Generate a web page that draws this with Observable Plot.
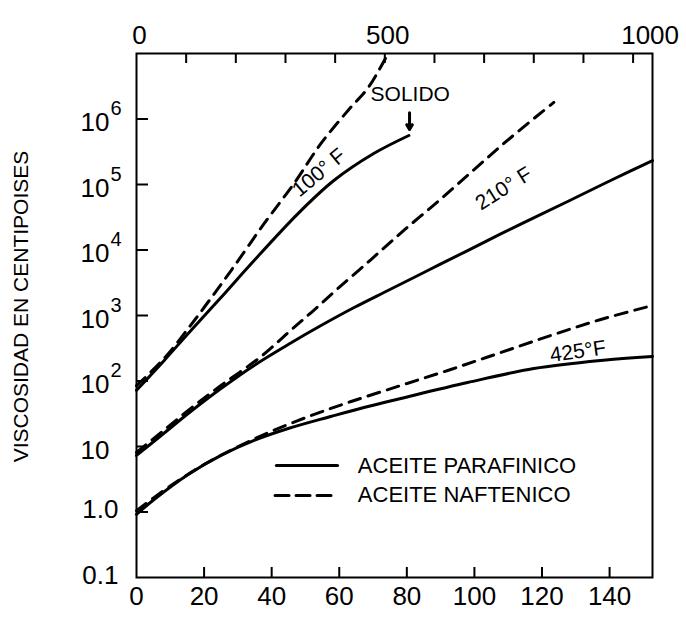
<!DOCTYPE html>
<html><head><meta charset="utf-8">
<script src="https://cdn.jsdelivr.net/npm/d3@7"></script>
<script src="https://cdn.jsdelivr.net/npm/@observablehq/plot@0.6"></script>
<style>body{margin:0;background:#fff} #chart svg{overflow:visible}</style>
</head><body><div id="chart"></div>
<script>
// Presión (eje inferior, unidades del gráfico) y viscosidad (cP)
const x100Par = [0, 8.2, 15.3, 25.0, 34.0, 47.8, 58.4, 70.2, 80.6];
const v100Par = [72, 206, 531, 1880, 6220, 36000, 115000, 297000, 560000];
const x100Naf = [0, 8.2, 15.3, 20.0, 28.0, 37.8, 46.6, 54.6, 62.6, 68.6, 73.8];
const v100Naf = [85, 221, 634, 1325, 4860, 25400, 103500, 423000, 1350000, 3030000, 8700000];
const x210Par = [0, 7.3, 15.3, 25.0, 34.8, 44.9, 54.6, 64.4, 74.4, 86.2, 98.0, 112.8, 127.6, 140.3, 152.7];
const v210Par = [7.3, 14.7, 31.9, 76.7, 173, 361, 703, 1325, 2410, 4860, 9810, 23600, 55000, 115000, 232000];
const x210Naf = [0, 7.3, 15.3, 25.0, 36.9, 44.9, 51.7, 59.6, 69.4, 79.1, 89.2, 98.9, 108.7, 118.7, 123.5];
const v210Naf = [8.1, 16.4, 35.5, 85.3, 237, 550, 1110, 2580, 7160, 19900, 55000, 152000, 423000, 1130000, 1790000];
const x425Par = [0, 5.2, 15.3, 25.0, 34.8, 44.9, 57.5, 67.3, 78.2, 98.0, 117.6, 137.4, 152.7];
const v425Par = [0.92, 1.55, 3.74, 7.3, 12.4, 18.8, 28.7, 39.4, 54.1, 94.8, 155, 206, 237];
const x425Naf = [0, 10.2, 20.0, 30.1, 39.8, 51.7, 63.5, 78.2, 93.0, 107.8, 122.6, 137.4, 152.7];
const v425Naf = [1.05, 2.54, 5.31, 10.0, 16.9, 29.7, 48.6, 85.3, 150, 272, 495, 869, 1420];

// Ejes
const bottomTicks = [0, 20, 40, 60, 80, 100, 120, 140];
const topTicks = [100, 200, 300, 400, 500, 600, 700, 800, 900, 1000];
const topLabels = [0, 500, 1000];
const yTicks = [0.1, 1, 10, 100, 1e3, 1e4, 1e5, 1e6];
const yBase = ["0.1", "1.0", "10", "10", "10", "10", "10", "10"];
const ySup = ["", "", "", "2", "3", "4", "5", "6"];
const ATM = 0.14696; // atm -> unidades del eje inferior

const mk = (xs, vs, serie, temp) => xs.map((x, i) => ({x, v: vs[i], serie, temp}));
const series = [
  mk(x100Par, v100Par, "par", "100"), mk(x100Naf, v100Naf, "naf", "100"),
  mk(x210Par, v210Par, "par", "210"), mk(x210Naf, v210Naf, "naf", "210"),
  mk(x425Par, v425Par, "par", "425"), mk(x425Naf, v425Naf, "naf", "425")
];
const yLab = yTicks.map((v, i) => ({v, base: yBase[i], sup: ySup[i]}));

const font = "Liberation Sans, Arial, sans-serif";
const W = 686, H = 623, mT = 53, mB = 46, mL = 136, mR = 34;
const iw = W - mL - mR, ih = H - mT - mB;

const marks = [];
for (const s of series) {
  marks.push(Plot.line(s, {x: "x", y: "v", curve: "catmull-rom", stroke: "#000", strokeWidth: 3,
    strokeDasharray: s[0].serie === "naf" ? "12,8" : null}));
}
marks.push(
  Plot.frame({stroke: "#000", strokeWidth: 2}),
  Plot.tickX(bottomTicks.slice(1), {x: d => d, insetTop: ih - 10, strokeWidth: 2}),
  Plot.tickX(topTicks, {x: d => d * ATM, insetBottom: ih - 10, strokeWidth: 2}),
  Plot.tickY(yTicks.slice(1), {y: d => d, insetRight: iw - 12, strokeWidth: 2}),
  Plot.text(bottomTicks, {x: d => d, frameAnchor: "bottom", dy: 27, text: d => String(d), fontSize: 26}),
  Plot.text(topLabels.filter(d => d < 1000), {x: d => d * ATM, frameAnchor: "top", dy: -28, dx: 3, text: d => String(d), fontSize: 26}),
  Plot.text(topLabels.filter(d => d === 1000), {x: d => d * ATM, frameAnchor: "top", dy: -28, dx: 17, text: d => String(d), fontSize: 26}),
  Plot.text(yLab.filter(d => d.sup === "" && d.base !== "10"), {y: "v", frameAnchor: "left", dx: -18, dy: -2, text: "base", textAnchor: "end", fontSize: 26}),
  Plot.text(yLab.filter(d => d.base === "10"), {y: "v", frameAnchor: "left", dx: -27, dy: 4, text: "base", textAnchor: "end", fontSize: 26}),
  Plot.text(yLab.filter(d => d.sup !== ""), {y: "v", frameAnchor: "left", dx: -26, dy: -10, text: "sup", textAnchor: "start", fontSize: 20}),
  Plot.text(["VISCOSIDAD EN CENTIPOISES"], {x: -34, y: 1370, rotate: -90, fontSize: 21}),
  // etiquetas de curvas
  Plot.text(["100° F"], {x: 54.0, y: 152000, rotate: -40, fontSize: 21}),
  Plot.text(["210° F"], {x: 108.7, y: 86900, rotate: -32, fontSize: 21}),
  Plot.text(["425°F"], {x: 130.6, y: 282, rotate: -8, fontSize: 21}),
  Plot.text(["SOLIDO"], {x: 81.0, y: 2370000, fontSize: 21}),
  Plot.arrow([0], {x1: 80.8, x2: 80.8, y1: 1250000, y2: 690000, strokeWidth: 3, headLength: 7, stroke: "#000"}),
  // leyenda
  Plot.line([{x: 41.4, v: 5.13}, {x: 59.5, v: 5.13}], {x: "x", y: "v", stroke: "#000", strokeWidth: 3}),
  Plot.line([{x: 41.0, v: 1.79}, {x: 59.5, v: 1.79}], {x: "x", y: "v", stroke: "#000", strokeWidth: 3, strokeDasharray: "14,7"}),
  Plot.text(["ACEITE PARAFINICO"], {x: 65.5, y: 5.13, textAnchor: "start", fontSize: 22}),
  Plot.text(["ACEITE NAFTENICO"], {x: 65.5, y: 1.79, textAnchor: "start", fontSize: 22})
);

const chart = Plot.plot({
  width: W, height: H, marginTop: mT, marginBottom: mB, marginLeft: mL, marginRight: mR,
  style: {fontFamily: font, color: "#000", background: "#fff"},
  x: {domain: [0, 152.7], axis: null},
  y: {type: "log", domain: [0.1, 1e7], axis: null},
  marks
});
document.getElementById("chart").append(chart);
</script>
</body></html>
